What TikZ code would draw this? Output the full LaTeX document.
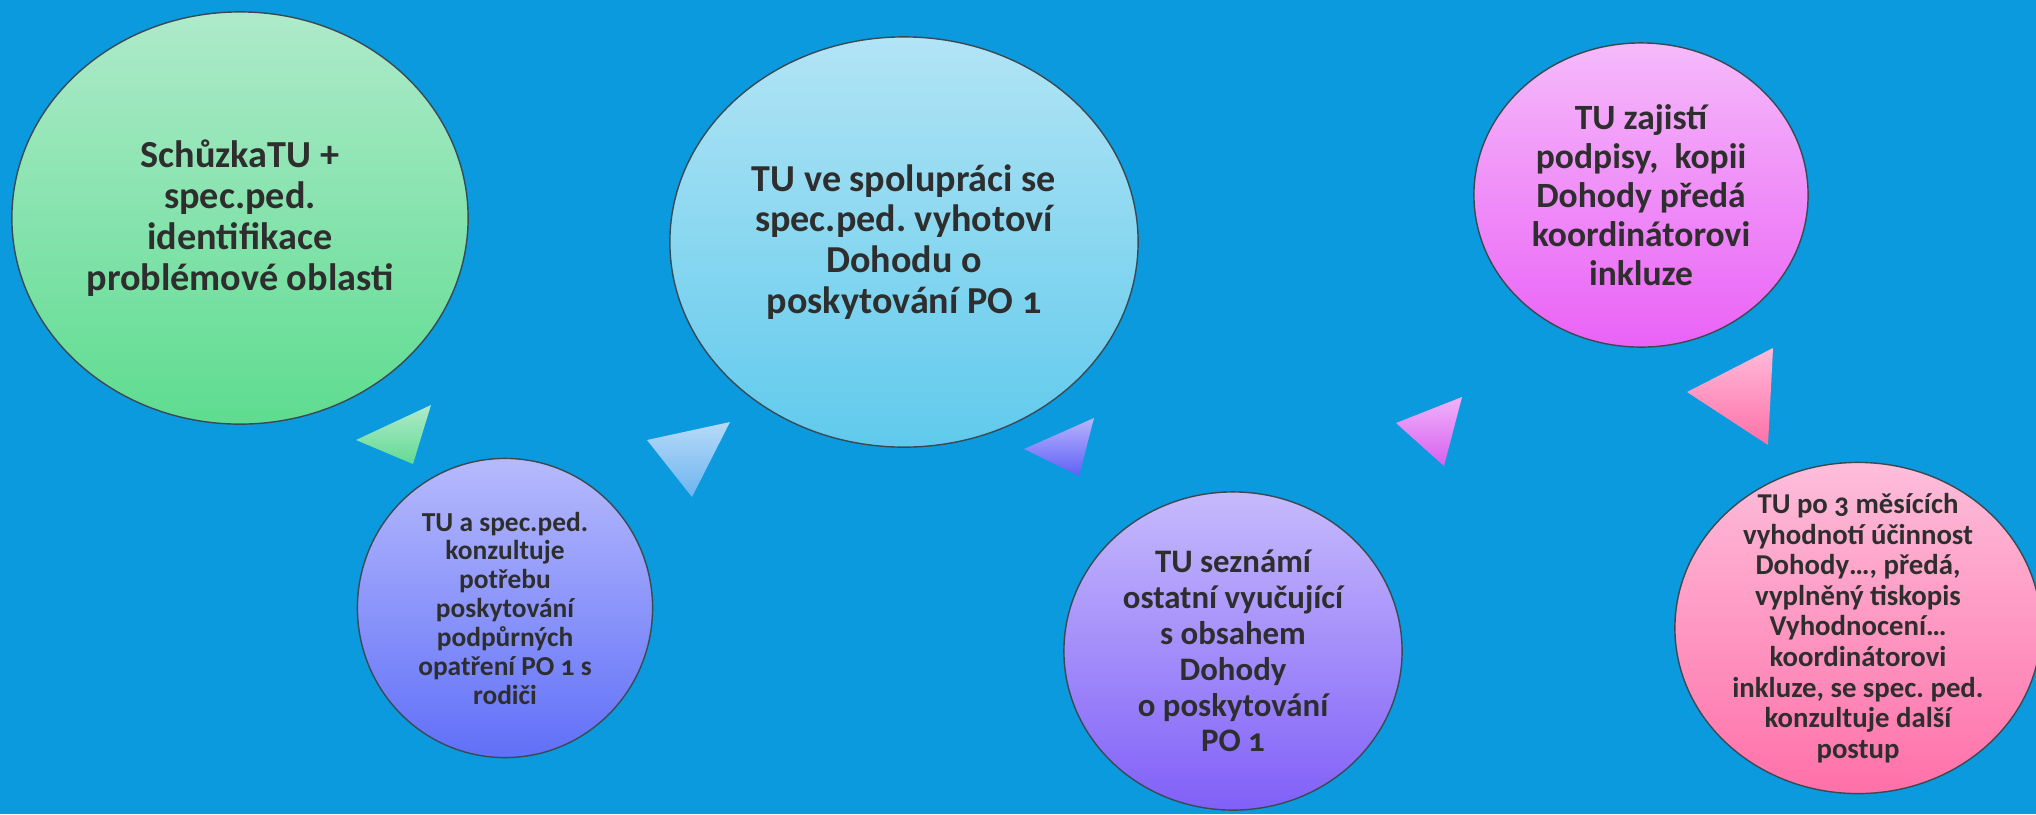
\documentclass[tikz,border=0pt]{standalone}
\usepackage{fontspec}
\setmainfont{Carlito}[Numbers=OldStyle]
\usetikzlibrary{shapes.geometric}
\definecolor{bg}{HTML}{0B9ADD}
\definecolor{txt}{HTML}{2E2E2E}
\definecolor{rim}{HTML}{3A4A55}
\definecolor{gA}{RGB}{174,234,202}\definecolor{gB}{RGB}{94,220,144}
\definecolor{bA}{RGB}{178,228,245}\definecolor{bB}{RGB}{96,202,236}
\definecolor{mA}{RGB}{245,186,250}\definecolor{mB}{RGB}{234,98,246}
\definecolor{vA}{RGB}{182,186,252}\definecolor{vB}{RGB}{96,112,248}
\definecolor{pA}{RGB}{198,186,252}\definecolor{pB}{RGB}{128,96,248}
\definecolor{rA}{RGB}{253,190,218}\definecolor{rB}{RGB}{255,112,168}
\definecolor{t1A}{RGB}{176,234,204}\definecolor{t1B}{RGB}{100,218,146}
\definecolor{t2A}{RGB}{182,218,248}\definecolor{t2B}{RGB}{110,180,240}
\definecolor{t3A}{RGB}{184,180,252}\definecolor{t3B}{RGB}{96,96,248}
\definecolor{t4A}{RGB}{240,178,250}\definecolor{t4B}{RGB}{216,96,240}
\definecolor{t5A}{RGB}{255,186,216}\definecolor{t5B}{RGB}{255,112,168}
\newlength\lwtmp
% #1 target width in px (1px = 0.01cm), #2 baselineskip (pt), #3 widest line
\newcommand\fitfont[3]{%
  \settowidth\lwtmp{\bfseries\fontsize{10}{10}\selectfont #3}%
  \pgfmathsetmacro\fitsz{10*(#1*0.283465)/\lwtmp}%
  \bfseries\fontsize{\fitsz}{#2}\selectfont}
\tikzset{
  bubble/.style={ellipse, draw=rim, line width=0.4pt, inner sep=0pt},
  words/.style={align=center, text=txt, inner sep=0pt},
  tri/.style={draw=none}
}
\frenchspacing
\begin{document}
\begin{tikzpicture}[x=0.01cm,y=-0.01cm]
\fill[bg] (0,0) rectangle (2036,814);
\useasboundingbox (0,0) rectangle (2036,814);

% bubbles
\node[bubble, minimum width=4.56cm, minimum height=4.12cm, top color=gA, bottom color=gB] (n1) at (240,218) {};
\node[words, font={\fitfont{308}{11.6}{problémové oblasti}}] (n1t) at (n1.center)
  {SchůzkaTU +\\spec.ped.\\identifikace\\problémové oblasti};

\node[bubble, minimum width=4.68cm, minimum height=4.10cm, top color=bA, bottom color=bB] (n2) at (904,242) {};
\node[words, font={\fitfont{305}{11.6}{TU ve spolupráci se}}] (n2t) at (n2.center)
  {TU ve spolupráci se\\spec.ped. vyhotoví\\Dohodu o\\poskytování PO 1};

\node[bubble, minimum width=3.34cm, minimum height=3.04cm, top color=mA, bottom color=mB] (n3) at (1641,195) {};
\node[words, font={\fitfont{219}{11.1}{koordinátorovi}}] (n3t) at (n3.center)
  {TU zajistí\\podpisy,\ \ kopii\\Dohody předá\\koordinátorovi\\inkluze};

\node[bubble, minimum width=2.95cm, minimum height=2.99cm, top color=vA, bottom color=vB] (n4) at (505,608) {};
\node[words, font={\fitfont{174}{8.2}{opatření PO 1 s}}] (n4t) at (n4.center)
  {TU a spec.ped.\\konzultuje\\potřebu\\poskytování\\podpůrných\\opatření PO 1 s\\rodiči};

\node[bubble, minimum width=3.38cm, minimum height=3.18cm, top color=pA, bottom color=pB] (n5) at (1233,651) {};
\node[words, font={\fitfont{221}{10.2}{ostatní vyučující}}] (n5t) at (n5.center)
  {TU seznámí\\ostatní vyučující\\s obsahem\\Dohody\\o poskytování\\PO 1};

\node[bubble, minimum width=3.66cm, minimum height=3.31cm, top color=rA, bottom color=rB] (n6) at (1858,628) {};
\node[words, font={\fitfont{252}{8.7}{inkluze, se spec. ped.}}] (n6t) at (n6.center)
  {TU po 3 měsících\\vyhodnotí účinnost\\Dohody\dots, předá,\\vyplněný tiskopis\\Vyhodnocení\dots\\koordinátorovi\\inkluze, se spec. ped.\\konzultuje další\\postup};

% triangles (arrows)
\shade[tri, top color=t1A, bottom color=t1B]
  (356,440) -- (431,405) -- (413,464) -- cycle;
\shade[tri, top color=t2A, bottom color=t2B]
  (647,440) -- (730,422) -- (692,497) -- cycle;
\shade[tri, top color=t3A, bottom color=t3B]
  (1024,449) -- (1094,418) -- (1079,476) -- cycle;
\shade[tri, top color=t4A, bottom color=t4B]
  (1396,423) -- (1462,397) -- (1444,466) -- cycle;
\shade[tri, top color=t5A, bottom color=t5B]
  (1687,392) -- (1773,348) -- (1768,445) -- cycle;
\end{tikzpicture}
\end{document}
